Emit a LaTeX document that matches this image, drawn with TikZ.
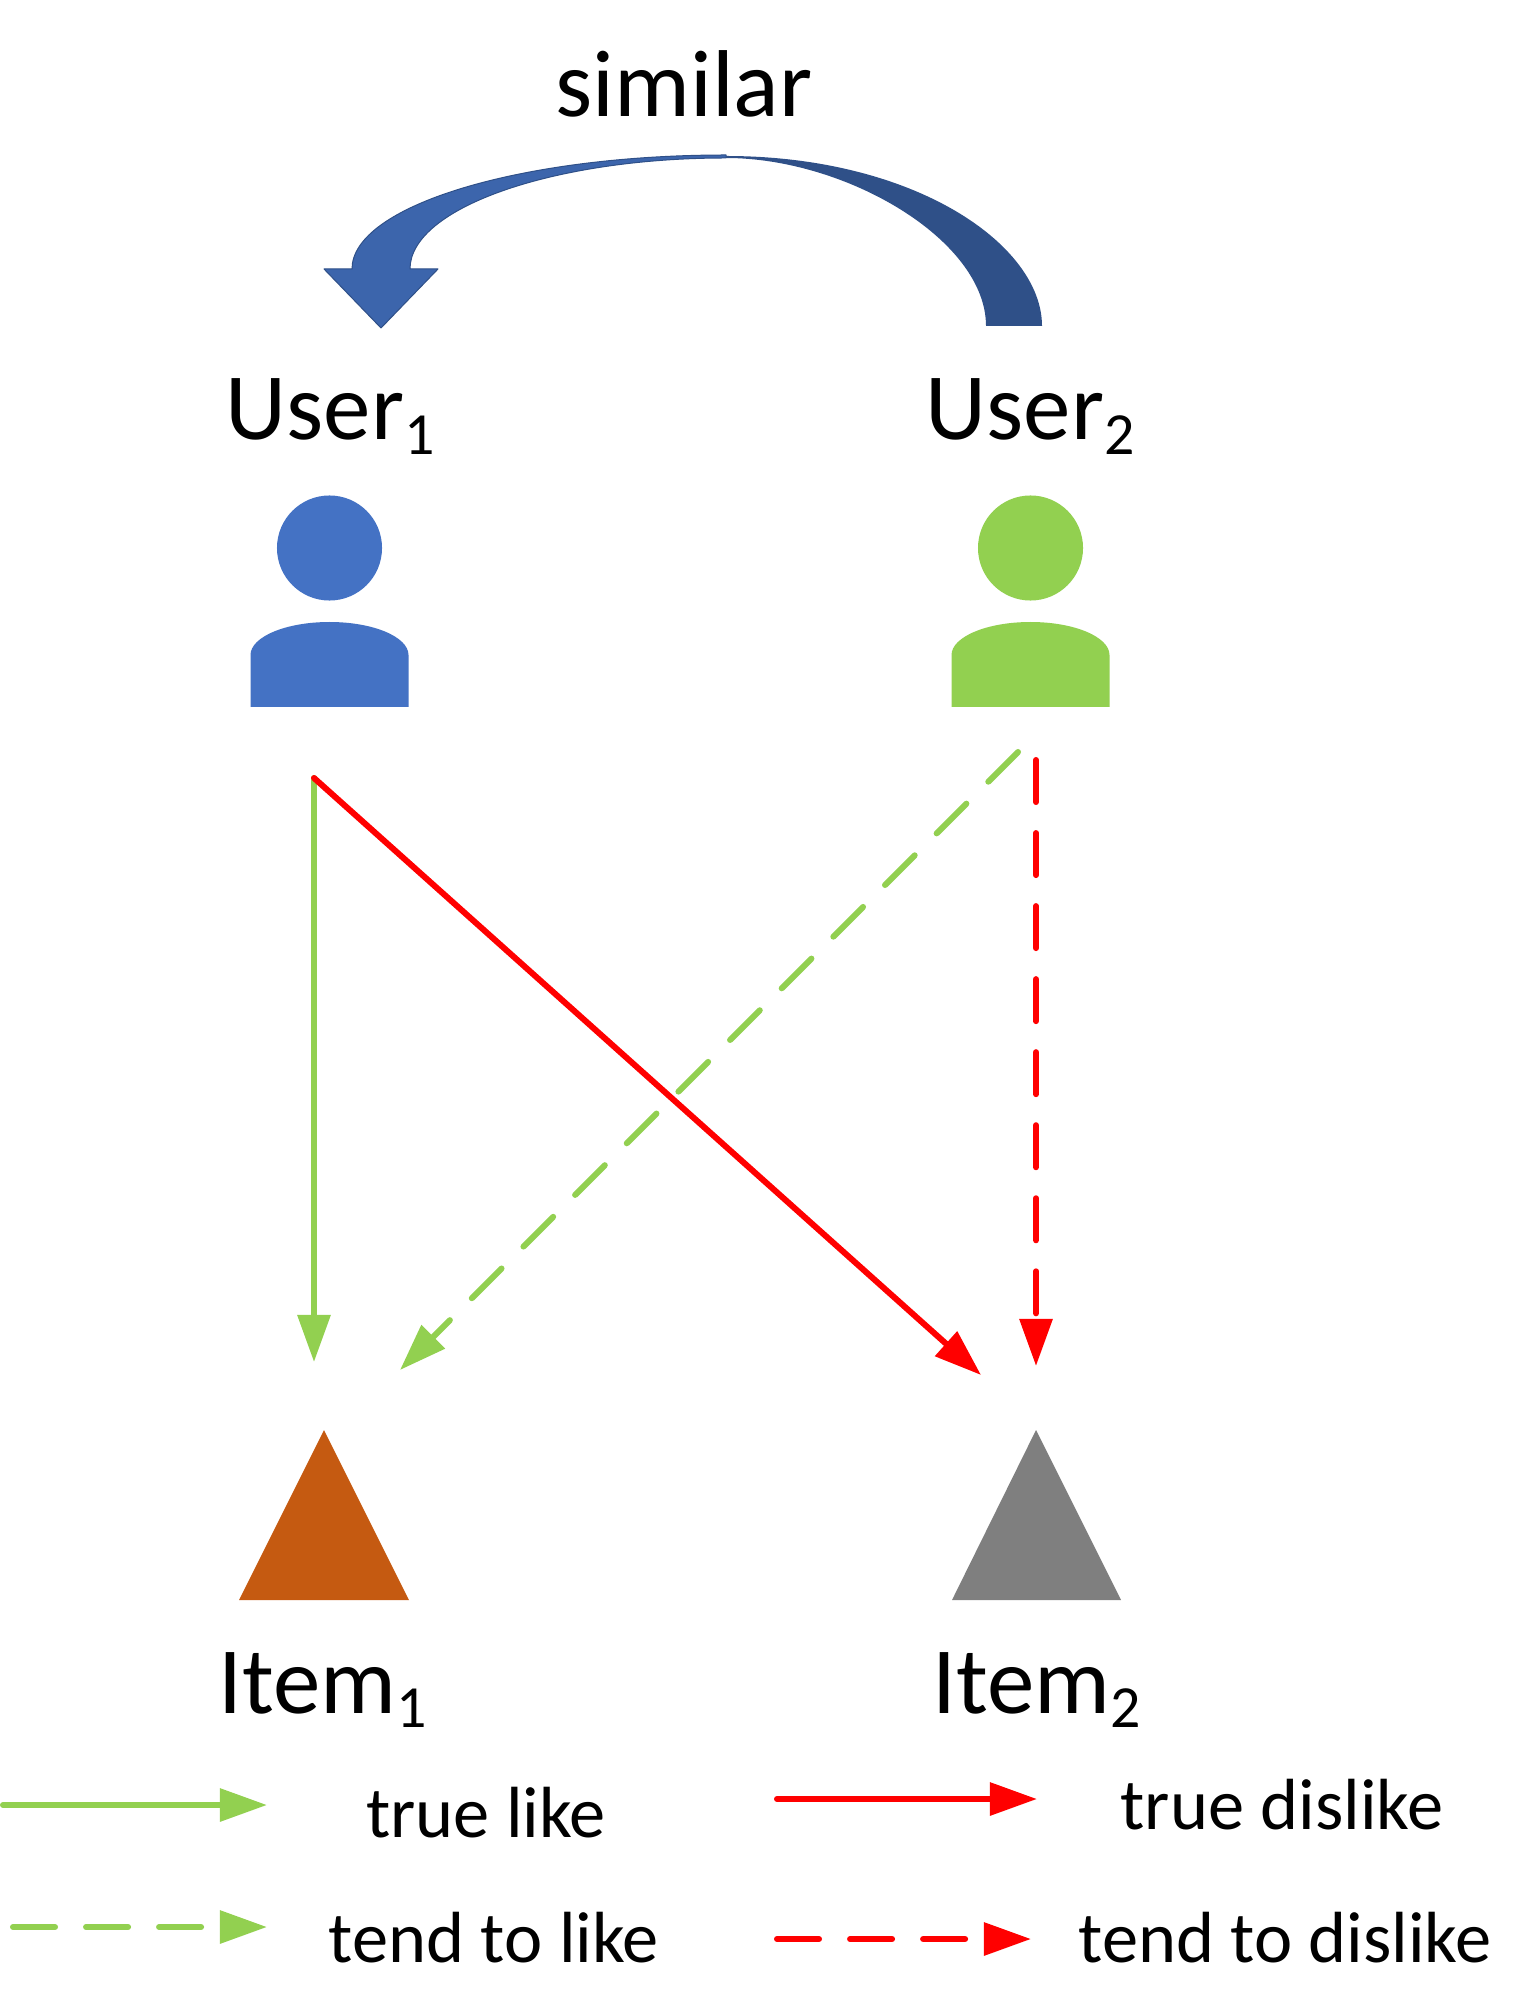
\documentclass[tikz,border=0pt]{standalone}
\usepackage{fontspec}
\setmainfont{Carlito}
\usetikzlibrary{arrows.meta}
\definecolor{userblue}{HTML}{4472C4}
\definecolor{usergreen}{HTML}{92D050}
\definecolor{arrowblue}{HTML}{3C65AC}
\definecolor{arrowdark}{HTML}{2F5088}
\definecolor{itembrown}{HTML}{C55A11}
\definecolor{itemgray}{HTML}{7F7F7F}
\newcommand{\lowidx}[1]{\raisebox{-0.14cm}{\fontsize{17}{20}\selectfont #1}}
\begin{document}
\begin{tikzpicture}[x=0.01cm, y=-0.01cm,
    bigtext/.style={font=\fontsize{27}{32}\selectfont, inner sep=0pt},
    smalltext/.style={font=\fontsize{20.6}{24}\selectfont, inner sep=0pt},
    link/.style={line width=0.06cm, line cap=round, -{Triangle[length=0.47cm, width=0.32cm]}},
    softdash/.style={dash pattern=on 0.42cm off 0.31cm}]

    \useasboundingbox (0,0) rectangle (1529,2016);

    % Similar arrow
    \node[bigtext] (similar) at (684,84) {similar};
    \fill[arrowdark] (726,156) .. controls (915,156) and (1042,245) .. (1042,326)
        -- (986,326) .. controls (986,240) and (846,158) .. (726,158) -- cycle;
    \draw[arrowdark, fill=arrowblue, line width=0.01cm, line join=round] (726,155)
        .. controls (520,155) and (352,206) .. (352,269) -- (324,269) -- (381,328) -- (438,269) -- (410,269)
        .. controls (410,208) and (553,158) .. (726,158) -- cycle;

    % Users
    \node[bigtext, anchor=base west] (user1) at (225,440) {User\lowidx{1}};
    \node[bigtext, anchor=base west] (user2) at (925,440) {User\lowidx{2}};
    \foreach \x/\c in {329.5/userblue, 1030.5/usergreen} {
        \fill[\c] (\x,548) circle[radius=0.525cm];
        \fill[\c] (\x-79,707) -- (\x-79,655) .. controls (\x-79,637) and (\x-44,622) .. (\x,622)
            .. controls (\x+44,622) and (\x+79,637) .. (\x+79,655) -- (\x+79,707) -- cycle;
    }

    % Items
    \fill[itembrown] (324,1430) -- (239,1600) -- (409,1600) -- cycle;
    \fill[itemgray] (1036,1430) -- (952,1600) -- (1121,1600) -- cycle;
    \node[bigtext, anchor=base west] (item1) at (218,1713) {Item\lowidx{1}};
    \node[bigtext, anchor=base west] (item2) at (932,1713) {Item\lowidx{2}};

    % Connectors
    \coordinate (a) at (314,778);
    \coordinate (b) at (1018,752);
    \coordinate (c) at (1036,760);
    \coordinate (d) at (314,1362);
    \coordinate (e) at (400,1370);
    \coordinate (f) at (981,1375);
    \coordinate (g) at (1036,1366);
    \draw[link, usergreen] (a) -- (d);
    \draw[link, usergreen, softdash] (b) -- (e);
    \draw[link, red] (a) -- (f);
    \draw[link, red, softdash] (c) -- (g);

    % Legend
    \coordinate (l1) at (3,1805);
    \coordinate (l2) at (267,1805);
    \coordinate (l3) at (13,1927);
    \coordinate (l4) at (267,1927);
    \coordinate (l5) at (777,1799);
    \coordinate (l6) at (1037,1799);
    \coordinate (l7) at (777,1939);
    \coordinate (l8) at (1031,1939);
    \draw[link, usergreen] (l1) -- (l2);
    \draw[link, usergreen, softdash] (l3) -- (l4);
    \draw[link, red] (l5) -- (l6);
    \draw[link, red, softdash] (l7) -- (l8);
    \node[smalltext] (truelike) at (486,1813) {true like};
    \node[smalltext] (tendlike) at (494,1938) {tend to like};
    \node[smalltext] (truedislike) at (1282,1805) {true dislike};
    \node[smalltext] (tenddislike) at (1285,1938) {tend to dislike};

\end{tikzpicture}
\end{document}
